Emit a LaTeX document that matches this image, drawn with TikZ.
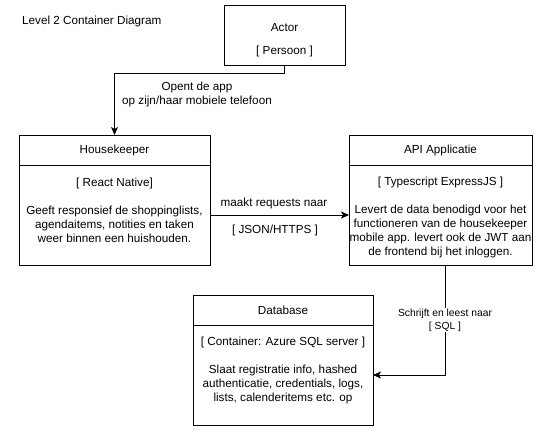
\documentclass[tikz,border=0pt]{standalone}
\usepackage{fontspec}
\setmainfont{Liberation Sans}
\usetikzlibrary{arrows.meta}
\begin{document}
\begin{tikzpicture}[x=1pt,y=-1pt,
  box/.style={draw=black,line width=0.9pt,inner sep=0pt,outer sep=0pt,font=\fontsize{11.7}{14}\selectfont},
  txt/.style={inner sep=0pt,align=center,font=\fontsize{11.7}{14}\selectfont},
  lbl/.style={inner sep=1pt,align=center,font=\fontsize{11.7}{14}\selectfont},
  slbl/.style={inner sep=1pt,align=center,fill=white,font=\fontsize{10.3}{13}\selectfont},
  conn/.style={line width=0.9pt,-{Stealth[length=8pt,width=7pt,inset=2pt]}}]
\useasboundingbox (0,0) rectangle (559,437);
% title
\node[txt,anchor=west] (title) at (22,21) {Level 2 Container Diagram};
% Actor
\node[box,minimum width=121pt,minimum height=60pt] (actor) at (284.5,35) {};
\node[txt] (actortxt) at (284.5,40.5) {Actor\\[9pt]{[ Persoon ]}};
% Housekeeper
\node[box,minimum width=191pt,minimum height=30pt] (hkh) at (114.5,150) {Housekeeper};
\node[box,minimum width=191pt,minimum height=100pt,anchor=north] (hk) at (hkh.south) {};
\node[txt] (hktxt) at (114.5,210) {{[ React Native]}\\[14pt]Geeft responsief de shoppinglists,\\agendaitems, notities en taken\\weer binnen een huishouden.};
% API
\node[box,minimum width=183pt,minimum height=30pt] (apih) at (440.5,150) {API Applicatie};
\node[box,minimum width=183pt,minimum height=100pt,anchor=north] (api) at (apih.south) {};
\node[txt] (apitxt) at (440.5,217) {{[ Typescript ExpressJS ]}\\[14pt]Levert de data benodigd voor het\\functioneren van de housekeeper\\mobile app. levert ook de JWT aan\\de frontend bij het inloggen.};
% Database
\node[box,minimum width=180pt,minimum height=30pt] (dbh) at (283,310) {Database};
\node[box,minimum width=180pt,minimum height=100pt,anchor=north] (db) at (dbh.south) {};
\node[txt] (dbtxt) at (283,370) {{[ Container: Azure SQL server ]}\\[14pt]Slaat registratie info, hashed\\authenticatie, credentials, logs,\\lists, calenderitems etc. op};
% connectors
\coordinate (c1) at (284.5,73);
\coordinate (c2) at (114.5,73);
\draw[conn] (actor.south) -- (c1) -- (c2) -- (hkh.north);
\node[lbl] (l1) at (197,94) {Opent de app\\op zijn/haar mobiele telefoon};
\draw[conn] (hk.east) -- (api.west);
\node[lbl] (l2a) at (274,203) {maakt requests naar};
\node[lbl] (l2b) at (275,230) {[ JSON/HTTPS ]};
\coordinate (c3) at (445,265);
\coordinate (c4) at (445,375);
\draw[conn] (c3) -- (c4) -- (db.east);
\node[slbl] (l3) at (445,320) {Schrijft en leest naar\\{[ SQL ]}};
\end{tikzpicture}
\end{document}
